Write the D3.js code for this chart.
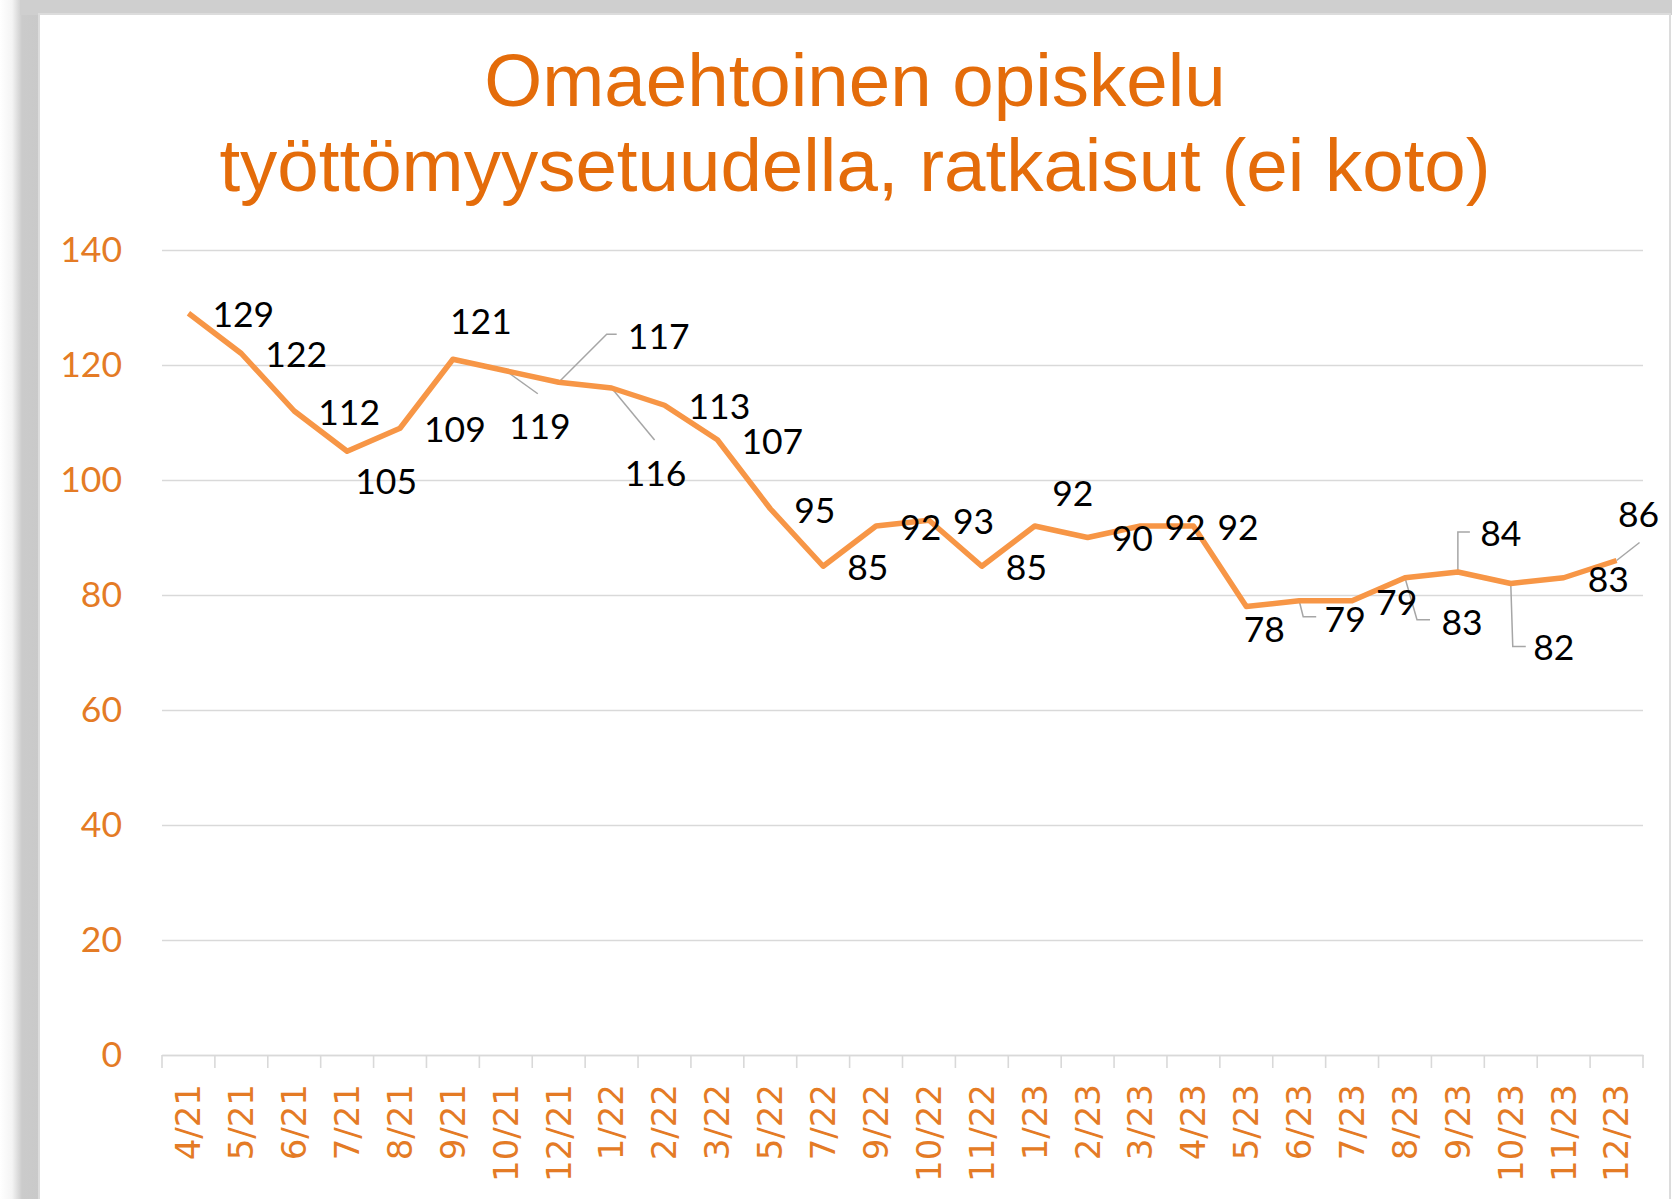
<!DOCTYPE html>
<html>
<head>
<meta charset="utf-8">
<script src="https://cdn.jsdelivr.net/npm/d3@7"></script>
<style>
body{margin:0;background:#fff;}
svg{display:block;}
</style>
</head>
<body>
<script>
var categories=['4/21','5/21','6/21','7/21','8/21','9/21','10/21','12/21',
	'1/22','2/22','3/22','5/22','7/22','9/22','10/22','11/22',
	'1/23','2/23','3/23','4/23','5/23','6/23','7/23','8/23','9/23','10/23','11/23','12/23'];
var values=[129,122,112,105,109,121,119,117,116,113,107,95,85,92,93,85,
	92,90,92,92,78,79,79,83,84,82,83,86];
var yTicks=[0,20,40,60,80,100,120,140];
var titleLines=['Omaehtoinen opiskelu','työttömyysetuudella, ratkaisut (ei koto)'];

// where each data label sits: 'r' = right of the point, else centre offset [dx,dy] (+ leader line)
var labelPlace=[
	'r','r','r',{d:[39,30]},'r',{d:[28,-38]},
	{d:[34,55],leader:[[0,0],[32,23]]},
	{d:[100,-46],leader:[[0,0],[48,-48],[58,-48]]},
	{d:[44,85],leader:[[0,0],[43,52]]},
	'r','r','r','r','r','r','r',
	{d:[38,-33]},'r','r','r',
	{d:[18,23]},
	{d:[46,18],leader:[[0,0],[4,16],[17,16]]},
	'r',
	{d:[57,44],leader:[[0,0],[12,42],[25,42]]},
	{d:[43,-39],leader:[[0,0],[0,-40],[12,-40]]},
	{d:[43,64],leader:[[0,0],[2,63],[15,63]]},
	'r',
	{d:[22,-46],leader:[[0,0],[23,-18]]}
];

var W=1672, H=1199;
var orange='#E47B25', lineColor='#F79646', gridColor='#d9d9d9';

var svg=d3.select('body').append('svg').attr('width',W).attr('height',H);

// slide frame with shadow
var defs=svg.append('defs');
var gl=defs.append('linearGradient').attr('id','shadowL').attr('x1',0).attr('x2',1).attr('y1',0).attr('y2',0);
gl.append('stop').attr('offset','0%').attr('stop-color','#ffffff');
gl.append('stop').attr('offset','30%').attr('stop-color','#f4f4f4');
gl.append('stop').attr('offset','55%').attr('stop-color','#cbcbcb');
gl.append('stop').attr('offset','100%').attr('stop-color','#c9c9c9');
svg.append('rect').attr('x',0).attr('y',0).attr('width',W).attr('height',H).attr('fill','#fff');
svg.append('rect').attr('x',0).attr('y',0).attr('width',40).attr('height',H).attr('fill','url(#shadowL)');
svg.append('rect').attr('x',20).attr('y',0).attr('width',W-20).attr('height',15).attr('fill','#cfcfcf');
svg.append('rect').attr('x',39).attr('y',14).attr('width',1631).attr('height',H).attr('fill','#fff')
	.attr('stroke','#dcdcdc').attr('stroke-width',2);

// title
svg.append('g').selectAll('text').data(titleLines).enter().append('text')
	.attr('x',855).attr('y',function(d,i){return 106+i*85;})
	.attr('text-anchor','middle')
	.style('font-family','"Liberation Sans", Arial, sans-serif')
	.style('font-size','74.5px')
	.attr('fill','#E46C0A')
	.text(function(d){return d;});

var x=d3.scaleBand().domain(categories).range([162,1643]);
var y=d3.scaleLinear().domain([0,140]).range([1055,250]);

// gridlines
var grid=svg.append('g').attr('transform','translate(162,0)')
	.call(d3.axisLeft(y).tickValues(yTicks).tickSize(-(1643-162)).tickFormat(''));
grid.select('.domain').remove();
grid.selectAll('line').attr('stroke',gridColor).attr('stroke-width',1.6);

// y labels
var yAxis=svg.append('g').attr('transform','translate(162,0)')
	.call(d3.axisLeft(y).tickValues(yTicks).tickSize(0).tickPadding(40));
yAxis.select('.domain').remove();
yAxis.selectAll('text')
	.style('font-family','Lato, "Open Sans", sans-serif')
	.style('font-size','35.5px')
	.attr('fill',orange);

// x axis
var xAxis=svg.append('g').attr('transform','translate(0,1055)')
	.call(d3.axisBottom(x).tickSize(0));
xAxis.select('.domain').attr('stroke',gridColor).attr('stroke-width',1.6);
xAxis.selectAll('text')
	.attr('transform','rotate(-90)')
	.attr('x',-29).attr('y',0).attr('dy','0.35em')
	.style('text-anchor','end')
	.style('font-family','"DejaVu Sans", sans-serif')
	.style('font-size','34px')
	.attr('fill',orange);
// tick marks at category boundaries
var bounds=d3.range(categories.length+1).map(function(i){return x.range()[0]+i*x.step();});
xAxis.append('g').selectAll('line').data(bounds).enter().append('line')
	.attr('x1',function(d){return d;}).attr('x2',function(d){return d;})
	.attr('y1',0).attr('y2',13)
	.attr('stroke',gridColor).attr('stroke-width',1.6);

function px(i) {return x(categories[i])+x.bandwidth()/2;}
function py(i) {return y(values[i]);}

// leader lines
var leaders=svg.append('g');
labelPlace.forEach(function(p,i) {
	if (p.leader) {
		var pts=p.leader.map(function(o){return [px(i)+o[0],py(i)+o[1]];});
		leaders.append('path').attr('d',d3.line()(pts))
			.attr('fill','none').attr('stroke','#a6a6a6').attr('stroke-width',1.5);
	}
});

// the line
svg.append('path').datum(values)
	.attr('d',d3.line().x(function(d,i){return px(i);}).y(function(d){return y(d);}))
	.attr('fill','none').attr('stroke',lineColor).attr('stroke-width',5.5)
	.attr('stroke-linejoin','round');

// data labels
svg.append('g').selectAll('text').data(values).enter().append('text')
	.attr('x',function(d,i){var p=labelPlace[i]; return p==='r'?px(i)+24:px(i)+p.d[0];})
	.attr('y',function(d,i){var p=labelPlace[i]; return p==='r'?py(i)+1:py(i)+p.d[1];})
	.attr('dy','0.36em')
	.attr('text-anchor',function(d,i){return labelPlace[i]==='r'?'start':'middle';})
	.style('font-family','Lato, "Open Sans", sans-serif')
	.style('font-size','35.5px')
	.attr('fill','#000')
	.text(function(d){return d;});
</script>
</body>
</html>
